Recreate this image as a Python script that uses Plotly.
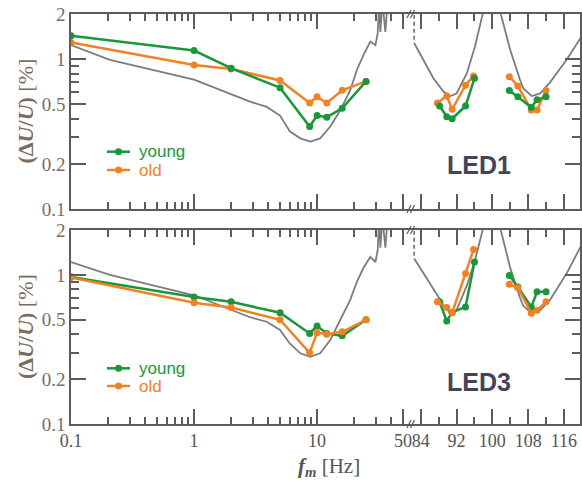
import math
import plotly.graph_objects as go

# ---------------- data ----------------
# low-frequency modulation frequencies (Hz)
F_LOW = [0.1, 1, 2, 5, 8.7, 10, 12, 16, 25]
# high-frequency groups (Hz)
F_G1_YOUNG = [88.2, 89.8, 91.0, 94.0, 96.0]
F_G1_OLD = [87.7, 89.8, 91.0, 94.0, 95.8]
F_G2 = [103.8, 105.7, 108.7, 110.0, 112.0]

# LED1 (top panel), dU/U in %
LED1_YOUNG_LOW = [1.43, 1.14, 0.87, 0.645, 0.355, 0.42, 0.41, 0.47, 0.71]
LED1_OLD_LOW = [1.29, 0.914, 0.86, 0.72, 0.51, 0.56, 0.51, 0.62, 0.71]
LED1_YOUNG_G1 = [0.487, 0.413, 0.40, 0.487, 0.745]
LED1_OLD_G1 = [0.51, 0.567, 0.463, 0.67, 0.773]
LED1_YOUNG_G2 = [0.617, 0.56, 0.478, 0.535, 0.56]
LED1_OLD_G2 = [0.764, 0.662, 0.458, 0.458, 0.617]

# LED3 (bottom panel)
LED3_YOUNG_LOW = [0.97, 0.71, 0.66, 0.557, 0.405, 0.454, 0.405, 0.39, 0.50]
LED3_OLD_LOW = [0.96, 0.65, 0.605, 0.50, 0.30, 0.41, 0.40, 0.415, 0.50]
LED3_YOUNG_G1 = [0.66, 0.49, 0.56, 0.61, 1.22]
LED3_OLD_G1 = [0.66, 0.605, 0.557, 1.02, 1.48]
LED3_YOUNG_G2 = [0.99, 0.83, 0.61, 0.77, 0.77]
LED3_OLD_G2 = [0.865, 0.82, 0.552, 0.58, 0.66]

# model (gray) curves
MODEL_F_LOW = [0.1, 0.207, 1.0, 2.09, 2.85, 3.9, 5.0, 6.0, 7.3, 8.8, 10.6, 12.8,
               15.5, 18.6, 21.1, 23.9, 27.1, 29.8, 31.1, 32.0, 32.7, 34.0, 35.9, 37.5, 45, 58]
MODEL1_V_LOW = [1.24, 0.99, 0.73, 0.58, 0.52, 0.48, 0.42, 0.33, 0.296, 0.282, 0.296, 0.355,
                0.458, 0.62, 0.85, 1.07, 1.31, 1.24, 1.49, 2.4, 1.52, 2.4, 1.52, 2.4, 3, 3]
MODEL3_V_LOW = [1.22, 1.0, 0.73, 0.58, 0.52, 0.485, 0.427, 0.347, 0.298, 0.282, 0.298, 0.366,
                0.50, 0.68, 0.90, 1.12, 1.32, 1.22, 1.47, 2.4, 1.52, 2.4, 1.52, 2.4, 3, 3]
MODEL_F_HIGH = [82.5, 86.8, 89.05, 90.6, 92.0, 94.3, 96.1, 98.0, None,
                101.7, 104.0, 106.2, 106.9, 108.8, 110.7, 112.9, 116.6, 119.9]
MODEL1_V_HIGH = [1.28, 0.745, 0.607, 0.567, 0.59, 0.805, 1.21, 2.1, None,
                 2.1, 1.15, 0.726, 0.64, 0.567, 0.59, 0.70, 0.99, 1.41]
MODEL3_V_HIGH = [1.29, 0.81, 0.63, 0.55, 0.58, 0.85, 1.25, 2.1, None,
                 2.1, 1.11, 0.70, 0.62, 0.552, 0.58, 0.68, 1.02, 1.58]
MODEL_DASH_F = [82.5, 82.5]
MODEL1_DASH_V = [2.2, 1.28]
MODEL3_DASH_V = [2.2, 1.29]

# ticks
Y_TICKS = [0.1, 0.2, 0.5, 1, 2]
Y_TICKTEXT = ["0.1", "0.2", "0.5", "1", "2"]
Y_MINOR = [0.3, 0.4, 0.6, 0.7, 0.8, 0.9]
XL_TICKS = [0.1, 1, 10, 50]
XL_TICKTEXT = ["0.1", "1", "10", "50"]
XL_MINOR = [0.2, 0.3, 0.4, 0.5, 0.6, 0.7, 0.8, 0.9, 2, 3, 4, 5, 6, 7, 8, 9, 20, 30, 40]
XR_TICKS = [84, 92, 100, 108, 116]
XR_TICKTEXT = ["84", "92", "100", "108", "116"]
XR_MINOR = [88, 96, 104, 112]

# ---------------- style ----------------
W, H = 582, 481
ML, MR, MT, MB = 71, 2, 14, 57
PW, PH = W - ML - MR, H - MT - MB
SPLIT = (411 - ML) / PW
TOP_DOM = [(424 - 209) / PH, 1]
BOT_DOM = [0, (424 - 230) / PH]

GREEN = "#1a963c"
ORANGE = "#f08223"
GRAY = "#7c7c7c"
AX = "#5c5c5c"
SERIF = "Liberation Serif, Times New Roman, serif"
SANS = "Liberation Sans, Arial, sans-serif"


def px(x):
    return (x - ML) / PW


def py(y):
    return (MT + PH - y) / PH


fig = go.Figure()


def add_series(xa, ya, f, v, color):
    fig.add_trace(go.Scatter(x=f, y=v, xaxis=xa, yaxis=ya, mode="lines+markers",
                             line=dict(color=color, width=2.5),
                             marker=dict(color=color, size=7), showlegend=False))


def add_model(xa_l, ya_l, xa_r, ya_r, vlow, vhigh, vdash):
    fig.add_trace(go.Scatter(x=MODEL_F_LOW, y=vlow, xaxis=xa_l, yaxis=ya_l, mode="lines",
                             line=dict(color=GRAY, width=1.8), showlegend=False))
    fig.add_trace(go.Scatter(x=MODEL_F_HIGH, y=vhigh, xaxis=xa_r, yaxis=ya_r, mode="lines",
                             line=dict(color=GRAY, width=1.8), showlegend=False,
                             connectgaps=False))
    fig.add_trace(go.Scatter(x=MODEL_DASH_F, y=vdash, xaxis=xa_r, yaxis=ya_r, mode="lines",
                             line=dict(color=GRAY, width=1.8, dash="4px,3px"),
                             showlegend=False))


# top panel (LED1)
add_model("x", "y", "x2", "y2", MODEL1_V_LOW, MODEL1_V_HIGH, MODEL1_DASH_V)
add_series("x", "y", F_LOW, LED1_OLD_LOW, ORANGE)
add_series("x", "y", F_LOW, LED1_YOUNG_LOW, GREEN)
add_series("x2", "y2", F_G1_OLD, LED1_OLD_G1, ORANGE)
add_series("x2", "y2", F_G1_YOUNG, LED1_YOUNG_G1, GREEN)
add_series("x2", "y2", F_G2, LED1_OLD_G2, ORANGE)
add_series("x2", "y2", F_G2, LED1_YOUNG_G2, GREEN)

# bottom panel (LED3)
add_model("x3", "y3", "x4", "y4", MODEL3_V_LOW, MODEL3_V_HIGH, MODEL3_DASH_V)
add_series("x3", "y3", F_LOW, LED3_YOUNG_LOW, GREEN)
add_series("x3", "y3", F_LOW, LED3_OLD_LOW, ORANGE)
add_series("x4", "y4", F_G1_YOUNG, LED3_YOUNG_G1, GREEN)
add_series("x4", "y4", F_G1_OLD, LED3_OLD_G1, ORANGE)
add_series("x4", "y4", F_G2, LED3_YOUNG_G2, GREEN)
add_series("x4", "y4", F_G2, LED3_OLD_G2, ORANGE)

common = dict(showline=True, linecolor=AX, linewidth=1.5, ticks="inside", ticklen=15,
              tickwidth=1.5, tickcolor=AX, showgrid=False, zeroline=False,
              tickmode="array")


def minor(vals, ln=7):
    return dict(ticks="inside", ticklen=ln, tickwidth=1.5, tickcolor=AX,
                tickmode="array", tickvals=vals, showgrid=False)


xfont = dict(family=SERIF, size=18, color="#555555")
yfont = dict(family=SERIF, size=19, color="#7a6d66")
XL_RANGE = [-1, math.log10(58)]
XR_RANGE = [81.8, 119.6]
Y_RANGE = [-1, math.log10(2)]


def xl(domain, anchor, labels):
    return dict(type="log", domain=domain, anchor=anchor, range=XL_RANGE, mirror="allticks",
                tickvals=XL_TICKS, ticktext=XL_TICKTEXT,
                showticklabels=labels, tickfont=xfont, minor=minor(XL_MINOR), **common)


def xr(domain, anchor, labels):
    return dict(type="linear", domain=domain, anchor=anchor, range=XR_RANGE, mirror="allticks",
                tickvals=XR_TICKS, ticktext=XR_TICKTEXT,
                showticklabels=labels, tickfont=xfont, minor=minor(XR_MINOR), **common)


def yl(domain, anchor):
    return dict(type="log", domain=domain, anchor=anchor, range=Y_RANGE,
                side="left", tickvals=Y_TICKS, ticktext=Y_TICKTEXT, tickfont=yfont,
                minor=minor(Y_MINOR, 8), **common)


def yr(domain, anchor):
    return dict(type="log", domain=domain, anchor=anchor, range=Y_RANGE,
                side="right", tickvals=Y_TICKS, showticklabels=False,
                minor=minor(Y_MINOR, 8), **common)


fig.update_layout(
    width=W, height=H, margin=dict(l=ML, r=MR, t=MT, b=MB),
    plot_bgcolor="white", paper_bgcolor="white", showlegend=False,
    xaxis=xl([0, SPLIT], "y", False),
    xaxis2=xr([SPLIT, 1], "y2", False),
    xaxis3=xl([0, SPLIT], "y3", True),
    xaxis4=xr([SPLIT, 1], "y4", True),
    yaxis=yl(TOP_DOM, "x"),
    yaxis2=yr(TOP_DOM, "x2"),
    yaxis3=yl(BOT_DOM, "x3"),
    yaxis4=yr(BOT_DOM, "x4"),
)

ann = []
shapes = []

# axis break marks
for yb in (209, 14, 424, 230):
    for dx in (-2, 1.5):
        shapes.append(dict(type="line", xref="paper", yref="paper",
                           x0=px(411 + dx - 2), y0=py(yb + 4), x1=px(411 + dx + 2), y1=py(yb - 4),
                           line=dict(color=AX, width=1.3)))

# legends (manual)
for (yy, yo) in ((151.7, 170), (368.3, 386)):
    for (yv, col, txt) in ((yy, GREEN, "young"), (yo, ORANGE, "old")):
        shapes.append(dict(type="line", xref="paper", yref="paper",
                           x0=px(107), x1=px(130), y0=py(yv), y1=py(yv),
                           line=dict(color=col, width=2.5)))
        shapes.append(dict(type="circle", xref="paper", yref="paper",
                           x0=px(115), x1=px(122), y0=py(yv + 3.5), y1=py(yv - 3.5),
                           fillcolor=col, line=dict(color=col, width=0)))
        ann.append(dict(text=txt, xref="paper", yref="paper", x=px(137), y=py(yv),
                        xanchor="left", yanchor="middle", showarrow=False,
                        font=dict(family=SANS, size=17, color=col)))

# panel labels
for (txt, yc) in (("LED1", 165), ("LED3", 382)):
    ann.append(dict(text="<b>" + txt + "</b>", xref="paper", yref="paper", x=px(479), y=py(yc),
                    xanchor="center", yanchor="middle", showarrow=False,
                    font=dict(family=SANS, size=25, color="#43435a")))

# y titles
for yc in (111.5, 327):
    ann.append(dict(text="<b>(Δ<i>U</i>/<i>U</i>)</b> [%]", xref="paper", yref="paper",
                    x=px(25), y=py(yc), xanchor="center", yanchor="middle", textangle=-90,
                    showarrow=False, font=dict(family=SERIF, size=22, color="#7b6b61")))

# x title
ann.append(dict(text="<b><i>f<sub>m</sub></i></b> [Hz]", xref="paper", yref="paper",
                x=px(329), y=py(467), xanchor="center", yanchor="middle", showarrow=False,
                font=dict(family=SERIF, size=21, color="#555555")))

fig.update_layout(annotations=ann, shapes=shapes)
fig.write_html("out.html")
